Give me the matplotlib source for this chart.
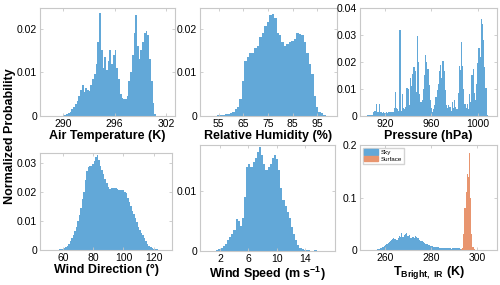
import numpy as np
import matplotlib
matplotlib.use("Agg")
import matplotlib.pyplot as plt
from matplotlib.patches import Patch

plt.rcParams['font.family'] = ['Liberation Sans', 'DejaVu Sans']
plt.rcParams['mathtext.fontset'] = 'custom'
plt.rcParams['mathtext.rm'] = 'Liberation Sans'
plt.rcParams['mathtext.bf'] = 'Liberation Sans:bold'

BLUE = '#62A8D8'
ORANGE = '#E8956F'
GRID = '#C8C8C8'

# --- data (heights in units of 1e-3 probability) ---
# air temperature, bins of 0.2 K starting at 289.8 K
air_start, air_w = 289.8, 0.2
air_p = [0.1, 0.2, 0.3, 0.5, 0.7, 1.0, 1.5, 2.0, 2.8, 3.5, 4.5, 6.0, 7.0, 5.5, 6.5,
         6.0, 5.8, 7.0, 8.5, 9.5, 12.0, 17.0, 23.5, 15.0, 11.0, 13.5, 10.5, 12.5,
         15.0, 12.0, 14.0, 15.0, 11.0, 8.5, 5.0, 4.2, 3.8, 4.0, 4.5, 8.0, 10.0,
         14.0, 19.0, 23.0, 16.0, 13.0, 15.0, 17.0, 19.0, 19.5, 18.5, 13.0, 8.0,
         3.0, 0.5]

# relative humidity, bins of 1 % starting at 54.5 %
rh_start, rh_w = 54.5, 1.0
rh_p = [0.2, 0.2, 0.3, 0.4, 0.5, 0.7, 1.0, 1.5, 2.0, 4.0, 8.0, 12.5, 13.5, 14.5,
        14.5, 15.5, 16.0, 18.0, 19.0, 20.5, 21.5, 23.0, 23.3, 22.5, 19.0, 18.5,
        17.0, 16.0, 16.5, 17.0, 17.2, 17.5, 19.0, 18.8, 18.5, 17.0, 14.5, 12.0,
        9.5, 4.5, 2.0, 1.0, 0.6, 0.3, 0.1]

# pressure, bins of 1 hPa starting at 904.5 hPa
pr_start, pr_w = 904.5, 1.0
pr_p = [0.3, 0.3, 0.3, 0.3, 0.5, 1.5, 2.0, 1.8, 4.5, 1.5, 4.5, 1.5, 1.3, 1.2,
        1.5, 1.2, 1.4, 1.2, 1.3, 1.5, 1.3, 1.5, 1.4, 3.0, 9.0, 3.0, 2.5, 1.8,
        32.0, 2.0, 8.0, 3.0, 2.5, 3.5, 10.5, 10.0, 4.0, 14.0, 11.0, 15.5, 18.0,
        16.5, 9.0, 29.5, 20.0, 8.0, 5.0, 6.0, 10.0, 15.0, 22.5, 20.0, 17.5, 11.5,
        6.0, 3.0, 1.5, 2.5, 4.0, 7.0, 9.5, 12.0, 16.5, 19.0, 14.0, 20.5, 16.5,
        9.5, 4.0, 3.0, 4.0, 3.5, 2.0, 5.0, 3.0, 6.0, 3.5, 2.5, 8.5, 18.5, 17.0,
        27.5, 18.5, 10.0, 4.5, 3.0, 4.5, 2.5, 8.0, 5.0, 15.0, 17.5, 8.5, 6.0,
        12.0, 19.5, 25.0, 22.0, 36.0, 34.0, 28.0, 18.0, 10.5, 0.5]

# wind direction, bins of 1 deg starting at 56.5 deg
wd_start, wd_w = 56.5, 1.0
wd_p = [0.1, 0.2, 0.3, 0.5, 0.7, 1.0, 1.5, 2.0, 3.0, 4.0, 5.0, 6.5, 8.0, 10.0,
        12.0, 14.5, 17.5, 20.0, 24.0, 27.0, 28.5, 29.0, 29.0, 29.5, 30.5, 32.0,
        32.5, 31.0, 29.0, 27.5, 26.0, 24.5, 23.0, 21.5, 21.0, 21.2, 21.3, 21.2,
        21.2, 21.0, 20.5, 20.5, 20.5, 20.5, 20.0, 19.5, 18.0, 16.5, 15.0, 13.5,
        12.5, 11.0, 9.5, 8.0, 7.0, 6.0, 5.0, 4.0, 3.0, 2.2, 1.5, 1.0, 0.7, 0.5,
        0.3, 0.2, 0.1, 0.1, 0.05]

# wind speed, bins of 0.3 m/s starting at 1.5 m/s
ws_start, ws_w = 1.5, 0.3
ws_p = [0.1, 0.3, 0.5, 0.8, 1.2, 1.8, 2.3, 2.8, 3.5, 5.3, 5.0, 4.2, 5.5, 9.0,
        14.0, 14.5, 14.0, 14.8, 15.5, 16.5, 17.3, 16.0, 14.5, 13.5, 14.0, 14.5,
        15.5, 16.0, 15.3, 13.5, 10.5, 8.5, 7.5, 6.5, 5.5, 4.0, 2.8, 1.8, 1.0,
        0.5, 0.3, 0.2, 0.1, 0.1, 0.05, 0.05, 0.1, 0.05]

# brightness temperature, bins of 0.5 K
sky_start, sky_w = 256.0, 0.5
sky_p = [0.5, 1.0, 2.0, 3.0, 4.0, 5.0, 6.5, 8.0, 10.0, 12.0, 14.0, 16.0, 18.0,
         19.5, 20.5, 22.0, 21.0, 20.0, 19.0, 22.0, 27.0, 24.0, 32.0, 25.0, 28.0,
         30.0, 33.0, 26.0, 27.0, 28.0, 22.0, 24.0, 25.0, 23.0, 26.0, 25.0, 22.0,
         20.0, 18.0, 17.5, 17.0, 15.0, 13.5, 12.0, 11.0, 10.0, 9.0, 8.0, 7.5,
         7.0, 6.5, 6.0, 5.5, 5.0, 4.8, 4.5, 4.2, 4.0, 3.8, 3.5, 3.5, 3.2, 3.0,
         3.0, 3.0, 2.8, 3.0, 3.2, 3.5, 3.5, 3.8, 4.2, 3.5, 2.5, 1.5, 0.5, 0.2]
sfc_start, sfc_w = 293.0, 0.5
sfc_p = [1.0, 4.0, 30.0, 80.0, 110.0, 145.0, 140.0, 185.0, 100.0, 30.0, 5.0, 1.0]

W, H = 500, 285
fig = plt.figure(figsize=(W / 100, H / 100), dpi=100)


def px_axes(l, t, r, b):
    return fig.add_axes([l / W, 1 - b / H, (r - l) / W, (b - t) / H])


def hist(ax, start, w, vals, color):
    vals = np.array(vals) * 1e-3
    edges = start + w * np.arange(len(vals) + 1)
    ax.stairs(vals, edges, fill=True, color=color, lw=0)


def style(ax, xlabel, xlim, xticks, ylim, yticks, ylabels):
    ax.set_xlim(*xlim)
    ax.set_ylim(*ylim)
    ax.set_xticks(xticks)
    ax.set_yticks(yticks)
    ax.set_yticklabels(ylabels)
    for s in ax.spines.values():
        s.set_color(GRID)
        s.set_linewidth(0.8)
    ax.tick_params(direction='in', length=2.5, width=0.6, color=GRID,
                   top=True, right=True, labelsize=7.5, pad=2)
    ax.set_xlabel(xlabel, fontsize=9, fontweight='bold', labelpad=1)


ax1 = px_axes(40, 8, 175, 116)
hist(ax1, air_start, air_w, air_p, BLUE)
style(ax1, 'Air Temperature (K)', (287.35, 303), [290, 296, 302],
      (0, 0.0247), [0, 0.01, 0.02], ['0', '0.01', '0.02'])

ax2 = px_axes(200, 8, 337, 116)
hist(ax2, rh_start, rh_w, rh_p, BLUE)
style(ax2, 'Relative Humidity (%)', (47.5, 103), [55, 65, 75, 85, 95],
      (0, 0.0247), [0, 0.01, 0.02], ['0', '0.01', '0.02'])

ax3 = px_axes(360, 8, 497, 116)
hist(ax3, pr_start, pr_w, pr_p, BLUE)
style(ax3, 'Pressure (hPa)', (898.5, 1016.5), [920, 960, 1000],
      (0, 0.04), [0, 0.01, 0.02, 0.03, 0.04],
      ['0', '0.01', '0.02', '0.03', '0.04'])

ax4 = px_axes(40, 153, 172, 250)
hist(ax4, wd_start, wd_w, wd_p, BLUE)
style(ax4, 'Wind Direction (°)', (45, 132), [60, 80, 100, 120],
      (0, 0.0333), [0, 0.01, 0.02, 0.03], ['0', '0.01', '0.02', '0.03'])

ax5 = px_axes(200, 145, 335, 251)
hist(ax5, ws_start, ws_w, ws_p, BLUE)
style(ax5, r'Wind Speed (m s$^{\mathbf{-1}}$)', (-0.8, 18.2), [2, 6, 10, 14],
      (0, 0.0177), [0, 0.01], ['0', '0.01'])

ax6 = px_axes(360, 145, 497, 250)
hist(ax6, sky_start, sky_w, sky_p, BLUE)
hist(ax6, sfc_start, sfc_w, sfc_p, ORANGE)
style(ax6, r'T$_{\mathbf{Bright,\ IR}}$ (K)', (249, 308.7), [260, 280, 300],
      (0, 0.2), [0, 0.1, 0.2], ['0', '0.1', '0.2'])
ax6.legend(handles=[Patch(color=BLUE, label='Sky'),
                    Patch(color=ORANGE, label='Surface')],
           loc='upper left', fontsize=4.5, frameon=True, edgecolor=GRID,
           fancybox=False, handlelength=2.2, handleheight=0.9,
           borderpad=0.3, labelspacing=0.15, handletextpad=0.4,
           borderaxespad=0.4)

fig.text(10 / W, 1 - 136 / H, 'Normalized Probability', rotation=90,
         ha='center', va='center', fontsize=9, fontweight='bold')

fig.savefig('out.png', dpi=100)
